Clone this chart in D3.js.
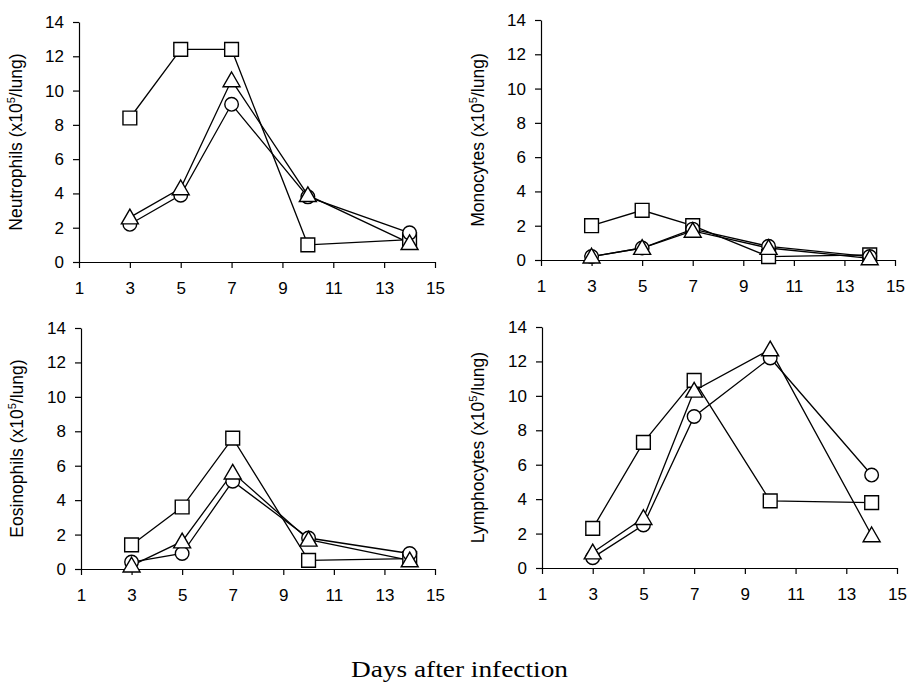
<!DOCTYPE html>
<html><head><meta charset="utf-8">
<script src="https://cdn.jsdelivr.net/npm/d3@7"></script>
<style>body{margin:0;background:#fff}svg{display:block}</style>
</head><body>
<svg id="c" width="918" height="684"></svg>
<script>
const days = [3, 5, 7, 10, 14];
const xTicks = [1, 3, 5, 7, 9, 11, 13, 15];
const yTicks = [0, 2, 4, 6, 8, 10, 12, 14];
const panelNames = ["Neutrophils", "Monocytes", "Eosinophils", "Lymphocytes"];
const seriesNames = ["square", "circle", "triangle"];

const neutroSquare = [8.4, 12.4, 12.4, 1.0, 1.3];
const neutroCircle = [2.2, 3.9, 9.2, 3.8, 1.7];
const neutroTriangle = [2.6, 4.3, 10.6, 3.9, 1.1];

const monoSquare = [2.0, 2.9, 2.0, 0.2, 0.3];
const monoCircle = [0.2, 0.7, 1.8, 0.8, 0.2];
const monoTriangle = [0.2, 0.7, 1.7, 0.7, 0.1];

const eosSquare = [1.4, 3.6, 7.6, 0.5, 0.6];
const eosCircle = [0.4, 0.9, 5.1, 1.8, 0.9];
const eosTriangle = [0.2, 1.6, 5.6, 1.7, 0.5];

const lymphSquare = [2.3, 7.3, 10.9, 3.9, 3.8];
const lymphCircle = [0.6, 2.5, 8.8, 12.2, 5.4];
const lymphTriangle = [0.9, 2.9, 10.3, 12.7, 1.9];

const panelData = [
  [neutroSquare, neutroCircle, neutroTriangle],
  [monoSquare, monoCircle, monoTriangle],
  [eosSquare, eosCircle, eosTriangle],
  [lymphSquare, lymphCircle, lymphTriangle]
];

const boxes = [
  {l: 79, r: 435, t: 22, b: 262, lx: 22},
  {l: 541, r: 895, t: 20, b: 260, lx: 484},
  {l: 81, r: 435, t: 328, b: 569, lx: 23},
  {l: 542, r: 897, t: 327, b: 568, lx: 484}
];

const svg = d3.select("#c");
const font = "'Liberation Sans', Arial, sans-serif";

panelNames.forEach((name, i) => {
  const bx = boxes[i];
  const x = d3.scaleLinear().domain([1, 15]).range([bx.l, bx.r]);
  const y = d3.scaleLinear().domain([0, 14]).range([bx.b, bx.t]);
  const g = svg.append("g");

  const ya = g.append("g").attr("transform", `translate(${bx.l},0)`)
    .call(d3.axisLeft(y).tickValues(yTicks).tickSize(6).tickPadding(9).tickSizeOuter(0));
  const xa = g.append("g").attr("transform", `translate(0,${bx.b})`)
    .call(d3.axisBottom(x).tickValues(xTicks).tickSize(6).tickPadding(14).tickSizeOuter(0));
  [ya, xa].forEach(a => {
    a.selectAll("text").attr("font-family", font).attr("font-size", 17).attr("fill", "#000");
    a.selectAll("line,path").attr("stroke", "#000").attr("stroke-width", 1.2);
  });

  const midY = (bx.t + bx.b) / 2;
  const lab = g.append("text")
    .attr("transform", `translate(${bx.lx},${midY}) rotate(-90)`)
    .attr("text-anchor", "middle")
    .attr("font-family", font).attr("font-size", 17.5).attr("fill", "#000");
  lab.append("tspan").text(name + " (x10");
  lab.append("tspan").attr("dy", -7).attr("font-size", 11).text("5");
  lab.append("tspan").attr("dy", 7).text("/lung)");

  const line = d3.line().x((d, j) => x(days[j])).y(d => y(d));
  panelData[i].forEach((vals, s) => {
    g.append("path").datum(vals).attr("d", line)
      .attr("fill", "none").attr("stroke", "#000").attr("stroke-width", 1.3);
  });
  panelData[i].forEach((vals, s) => {
    const type = seriesNames[s];
    const sym = type === "square" ? d3.symbolSquare : type === "circle" ? d3.symbolCircle : d3.symbolTriangle;
    const size = type === "square" ? 190 : type === "circle" ? 145 : 125;
    g.selectAll(null).data(vals).enter().append("path")
      .attr("d", d3.symbol().type(sym).size(size))
      .attr("transform", (d, j) => `translate(${x(days[j])},${y(d) + (type === "triangle" ? 1.5 : 0)})`)
      .attr("fill", "#fff").attr("stroke", "#000").attr("stroke-width", 1.4);
  });
});

svg.append("text").attr("x", 459.5).attr("y", 677).attr("text-anchor", "middle")
  .attr("font-family", "'Liberation Serif', 'Times New Roman', serif").attr("font-size", 24)
  .attr("textLength", 217).attr("lengthAdjust", "spacingAndGlyphs")
  .attr("fill", "#000").text("Days after infection");
</script>
</body></html>
